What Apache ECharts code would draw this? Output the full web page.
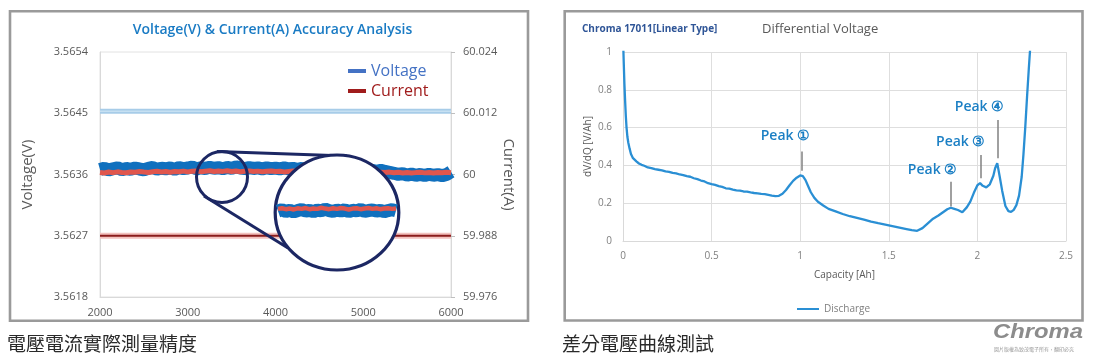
<!DOCTYPE html>
<html><head><meta charset="utf-8">
<script src="https://cdn.jsdelivr.net/npm/echarts@6/dist/echarts.min.js"></script>
<style>html,body{margin:0;padding:0;background:#fff}#c{width:1095px;height:359px}</style>
</head><body><div id="c"></div>
<script>
// ---------- Left chart: Voltage / Current accuracy ----------
const timeSec = [
 2000,2050,2100,2150,2200,2250,2300,2350,2400,2450,
 2500,2550,2600,2650,2700,2750,2800,2850,2900,2950,
 3000,3050,3100,3150,3200,3250,3300,3350,3400,3450,
 3500,3550,3600,3650,3700,3750,3800,3850,3900,3950,
 4000,4050,4100,4150,4200,4250,4300,4350,4400,4450,
 4500,4550,4600,4650,4700,4750,4800,4850,4900,4950,
 5000,5050,5100,5150,5200,5250,5300,5350,5400,5450,
 5500,5550,5600,5650,5700,5750,5800,5850,5900,5950,
 6000];
const voltage = [
 3.563672,3.563691,3.563668,3.563684,3.563699,3.563671,3.563688,3.563676,3.563694,3.563681,
 3.563669,3.563690,3.563703,3.563678,3.563692,3.563684,3.563697,3.563676,3.563701,3.563687,
 3.563695,3.563710,3.563683,3.563699,3.563688,3.563706,3.563692,3.563700,3.563685,3.563703,
 3.563690,3.563712,3.563694,3.563687,3.563702,3.563689,3.563697,3.563683,3.563699,3.563686,
 3.563694,3.563681,3.563697,3.563684,3.563690,3.563676,3.563688,3.563672,3.563685,3.563669,
 3.563680,3.563666,3.563678,3.563663,3.563675,3.563660,3.563672,3.563657,3.563669,3.563654,
 3.563666,3.563650,3.563663,3.563647,3.563661,3.563644,3.563632,3.563618,3.563603,3.563612,
 3.563590,3.563605,3.563588,3.563601,3.563584,3.563603,3.563589,3.563598,3.563583,3.563600,
 3.563640];
const current = [
 60.00041,60.00030,60.00048,60.00036,60.00052,60.00040,60.00033,60.00050,60.00044,60.00058,
 60.00047,60.00039,60.00055,60.00062,60.00049,60.00057,60.00045,60.00060,60.00053,60.00066,
 60.00051,60.00063,60.00070,60.00056,60.00064,60.00072,60.00059,60.00067,60.00061,60.00074,
 60.00060,60.00068,60.00055,60.00065,60.00071,60.00058,60.00066,60.00053,60.00062,60.00069,
 60.00057,60.00064,60.00051,60.00060,60.00067,60.00054,60.00061,60.00048,60.00058,60.00064,
 60.00050,60.00057,60.00046,60.00055,60.00062,60.00049,60.00056,60.00044,60.00052,60.00059,
 60.00047,60.00054,60.00042,60.00051,60.00045,60.00038,60.00047,60.00034,60.00043,60.00031,
 60.00040,60.00028,60.00037,60.00044,60.00032,60.00041,60.00029,60.00038,60.00033,60.00042,
 60.00036];
const voltLimit = 3.56453;
const currLimit = 59.988;
const voltTicks = [3.5618, 3.5627, 3.5636, 3.5645, 3.5654];
// magnified view inside the big circle (relative units)
const zoomIdx = [0,1,2,3,4,5,6,7,8,9,10,11,12,13,14,15,16,17,18,19,20,21,22,23,24,25,26,27,28,29,30];
const zoomVoltage = [4.6,5.1,4.5,4.9,4.3,4.8,5.2,4.6,4.9,4.4,5.0,4.7,5.3,4.8,4.5,5.0,4.6,5.1,4.4,4.9,4.7,5.2,4.5,4.8,5.0,4.6,4.9,4.4,4.8,5.1,4.7];
const zoomCurrent = [5.4,5.6,5.3,5.5,5.2,5.6,5.4,5.7,5.3,5.5,5.4,5.8,5.5,5.3,5.6,5.4,5.7,5.5,5.2,5.5,5.6,5.3,5.5,5.7,5.4,5.6,5.3,5.5,5.6,5.4,5.5];

// ---------- Right chart: differential voltage ----------
const dischargeCurve = [
 [0,1.08],[0.004,0.95],[0.008,0.83],[0.012,0.74],[0.016,0.66],[0.02,0.60],[0.025,0.55],[0.03,0.52],
 [0.037,0.49],[0.045,0.46],[0.055,0.44],[0.065,0.43],[0.077,0.42],[0.09,0.41],[0.105,0.403],[0.12,0.398],
 [0.14,0.389],[0.16,0.386],[0.18,0.380],[0.2,0.377],[0.22,0.374],[0.24,0.368],[0.26,0.366],[0.28,0.360],
 [0.3,0.358],[0.32,0.352],[0.34,0.349],[0.36,0.343],[0.38,0.340],[0.4,0.332],[0.42,0.327],[0.44,0.320],
 [0.46,0.315],[0.48,0.306],[0.5,0.301],[0.52,0.297],[0.54,0.290],[0.56,0.286],[0.58,0.279],[0.6,0.277],
 [0.62,0.272],[0.64,0.268],[0.66,0.266],[0.68,0.262],[0.7,0.261],[0.72,0.257],[0.74,0.254],[0.76,0.252],
 [0.78,0.249],[0.8,0.248],[0.82,0.244],[0.84,0.240],[0.86,0.237],[0.88,0.239],[0.9,0.250],[0.92,0.270],
 [0.94,0.295],[0.96,0.318],[0.98,0.335],[1.0,0.347],[1.015,0.343],[1.03,0.322],[1.045,0.290],[1.06,0.258],
 [1.08,0.228],[1.1,0.208],[1.13,0.188],[1.16,0.170],[1.2,0.157],[1.24,0.143],[1.28,0.131],[1.32,0.122],
 [1.36,0.113],[1.4,0.102],[1.44,0.094],[1.48,0.087],[1.52,0.079],[1.56,0.071],[1.6,0.063],[1.63,0.057],
 [1.66,0.054],[1.69,0.068],[1.72,0.093],[1.75,0.118],[1.78,0.135],[1.81,0.155],[1.83,0.168],[1.85,0.176],
 [1.87,0.170],[1.89,0.164],[1.915,0.152],[1.94,0.178],[1.96,0.208],[1.98,0.255],[2.0,0.295],[2.015,0.306],
 [2.03,0.292],[2.05,0.284],[2.07,0.300],[2.09,0.345],[2.1,0.385],[2.112,0.412],[2.125,0.345],[2.14,0.265],
 [2.158,0.185],[2.175,0.158],[2.19,0.154],[2.205,0.165],[2.22,0.190],[2.235,0.240],[2.25,0.340],[2.26,0.46],
 [2.27,0.60],[2.28,0.76],[2.29,0.91],[2.3,1.05]];
const peakNames = ['Peak \u2460', 'Peak \u2461', 'Peak \u2462', 'Peak \u2463'];
const peakLabelAt = [[0.917,0.557],[1.747,0.376],[1.906,0.525],[2.012,0.707]];
const peakArrowX = [1.01, 1.847, 2.017, 2.115];
const peakArrowTop = [0.473, 0.314, 0.455, 0.64];
const peakArrowEnd = [0.372, 0.182, 0.332, 0.438];

const chart = echarts.init(document.getElementById('c'), null, {renderer:'canvas'});
const F = '"Open Sans", "Noto Sans", sans-serif';
const CJK = '"Noto Sans CJK TC", "Noto Sans CJK SC", sans-serif';

const zip = (a,b) => a.map((v,i)=>[v,b[i]]);
const tStart = timeSec[0], tEnd = timeSec[timeSec.length-1];
const hline = (name, yIdx, v, color, width, z) => ({
  name, type:'line', xAxisIndex:0, yAxisIndex:yIdx, data:[[tStart, v],[tEnd, v]],
  symbol:'none', silent:true, z, lineStyle:{color, width}
});

chart.setOption({
  animation: false,
  backgroundColor: '#fff',
  textStyle: {fontFamily: F},
  grid: [
    {left:100, top:52, width:351, height:245, show:true, borderColor:'#e2e2e2', borderWidth:1, backgroundColor:'transparent'},
    {left:278, top:196, width:118, height:28},
    {left:623, top:52, width:443, height:189}
  ],
  legend: [
    {orient:'vertical', left:343, top:58, itemGap:4, itemWidth:18, itemHeight:4, icon:'rect',
     textStyle:{fontSize:16, fontFamily:F},
     data:[{name:'Voltage', itemStyle:{color:'#4472c4'}, textStyle:{color:'#4472c4'}},
           {name:'Current', itemStyle:{color:'#a01c1c'}, textStyle:{color:'#a01c1c'}}]},
    {left:792, top:299, itemWidth:22, itemHeight:2, icon:'rect', textStyle:{fontSize:10, color:'#7f7f7f', fontFamily:F},
     data:[{name:'Discharge'}]}
  ],
  xAxis: [
    {gridIndex:0, type:'value', min:2000, max:6000, interval:1000,
     axisLine:{show:true, lineStyle:{color:'#d9d9d9'}}, axisTick:{show:false}, splitLine:{show:false},
     axisLabel:{color:'#595959', fontSize:11, margin:10, formatter: v => String(v)}},
    {gridIndex:1, type:'value', min:0, max:30, show:false},
    {gridIndex:2, type:'value', min:0, max:2.5, interval:0.5,
     name:'Capacity [Ah]', nameLocation:'middle', nameGap:29, nameTextStyle:{color:'#595959', fontSize:10},
     axisLine:{show:true, lineStyle:{color:'#d9d9d9'}}, axisTick:{show:false},
     splitLine:{show:true, lineStyle:{color:'#dedede'}},
     axisLabel:{color:'#7f7f7f', fontSize:10, margin:10}}
  ],
  yAxis: [
    {gridIndex:0, type:'value', position:'left', min:3.5618, max:3.5654,
     name:'Voltage(V)', nameLocation:'middle', nameGap:65, nameRotate:90,
     nameTextStyle:{color:'#595959', fontSize:15},
     axisLine:{show:true, lineStyle:{color:'#d9d9d9'}}, axisTick:{show:false}, splitLine:{show:false},
     axisLabel:{color:'#595959', fontSize:11, margin:12, customValues: voltTicks, formatter: v => v.toFixed(4)}},
    {gridIndex:0, type:'value', position:'right', min:59.976, max:60.024, interval:0.012,
     name:'Current(A)', nameLocation:'middle', nameGap:50, nameRotate:-90,
     nameTextStyle:{color:'#595959', fontSize:15},
     axisLine:{show:true, lineStyle:{color:'#d9d9d9'}}, axisTick:{show:true, length:4, lineStyle:{color:'#bfbfbf'}},
     splitLine:{show:false},
     axisLabel:{color:'#595959', fontSize:11, margin:12}},
    {gridIndex:1, type:'value', min:0, max:10, show:false},
    {gridIndex:2, type:'value', min:0, max:1, interval:0.2,
     name:'dV/dQ [V/Ah]', nameLocation:'middle', nameGap:30, nameRotate:90,
     nameTextStyle:{color:'#595959', fontSize:10},
     axisLine:{show:true, lineStyle:{color:'#d9d9d9'}}, axisTick:{show:false},
     splitLine:{show:true, lineStyle:{color:'#dedede'}},
     axisLabel:{color:'#7f7f7f', fontSize:10, margin:11}}
  ],
  series: [
    hline('Voltage limit', 0, voltLimit, '#a7cce8', 5, 1),
    hline('Voltage limit core', 0, voltLimit, '#c6e0f2', 1.5, 1),
    hline('Current limit', 1, currLimit, '#f3c2bf', 6, 1),
    hline('Current limit core', 1, currLimit, '#8a1c1c', 1.8, 1),
    {name:'Voltage', type:'line', xAxisIndex:0, yAxisIndex:0, data: zip(timeSec, voltage),
     symbol:'none', z:2, lineStyle:{color:'#1070be', width:13}, itemStyle:{color:'#1070be'}},
    {name:'Current', type:'line', xAxisIndex:0, yAxisIndex:1, data: zip(timeSec, current),
     symbol:'none', z:3, lineStyle:{color:'#e0564d', width:5}, itemStyle:{color:'#e0564d'}},
    {name:'Voltage', type:'line', xAxisIndex:1, yAxisIndex:2, data: zip(zoomIdx, zoomVoltage),
     symbol:'none', z:10, lineStyle:{color:'#1070be', width:13}},
    {name:'Current', type:'line', xAxisIndex:1, yAxisIndex:2, data: zip(zoomIdx, zoomCurrent),
     symbol:'none', z:11, lineStyle:{color:'#e0564d', width:4.5}},
    {name:'Discharge', type:'line', xAxisIndex:2, yAxisIndex:3, data: dischargeCurve,
     symbol:'none', z:3, lineStyle:{color:'#2a8fd4', width:2.3}, itemStyle:{color:'#2a8fd4'},
     markLine:{silent:true, symbol:['none','arrow'], symbolSize:[0,7], label:{show:false},
       lineStyle:{color:'#808080', width:1.5, type:'solid'},
       data: peakArrowX.map((x,i)=>[{coord:[x, peakArrowTop[i]]},{coord:[x, peakArrowEnd[i]]}])},
     markPoint:{silent:true, symbol:'circle', symbolSize:1, itemStyle:{color:'rgba(0,0,0,0)'},
       label:{show:true, position:'inside', formatter:'{b}', color:'#1b7fc4', fontSize:14, fontWeight:600, fontFamily:F},
       data: peakNames.map((n,i)=>({name:n, coord:peakLabelAt[i]}))}}
  ],
  graphic: [
    {type:'rect', z:1, shape:{x:10, y:11.3, width:518, height:309.4}, style:{fill:'none', stroke:'#9a9a9a', lineWidth:2.6}},
    {type:'rect', z:1, shape:{x:564.7, y:11.3, width:517.8, height:309.2}, style:{fill:'none', stroke:'#9a9a9a', lineWidth:2.6}},
    {type:'text', z:20, x:272.5, y:30, style:{text:'Voltage(V) & Current(A) Accuracy Analysis', font:'600 14px '+F, fill:'#1a7bc4', textAlign:'center', textVerticalAlign:'middle'}},
    {type:'text', z:20, x:582, y:29, style:{text:'Chroma 17011[Linear Type]', font:'bold 10px '+F, fill:'#2f5597', textAlign:'left', textVerticalAlign:'middle'}},
    {type:'text', z:20, x:762, y:29, style:{text:'Differential Voltage', font:'13px '+F, fill:'#595959', textAlign:'left', textVerticalAlign:'middle'}},
    {type:'text', z:20, x:7, y:343.5, style:{text:'電壓電流實際測量精度', font:'19px '+CJK, fill:'#2a2a2a', textAlign:'left', textVerticalAlign:'middle'}},
    {type:'text', z:20, x:562, y:343.5, style:{text:'差分電壓曲線測試', font:'19px '+CJK, fill:'#2a2a2a', textAlign:'left', textVerticalAlign:'middle'}},
    {type:'text', z:20, x:993, y:332, scaleX:1.19, style:{text:'Chroma', font:'italic bold 20px "Liberation Sans", sans-serif', fill:'#8c8c8c', textAlign:'left', textVerticalAlign:'middle'}},
    {type:'text', z:20, x:994, y:349, style:{text:'圖片版權為致茂電子所有，翻印必究', font:'5px '+CJK, fill:'#9a9a9a', textAlign:'left', textVerticalAlign:'middle'}},
    // magnifier
    {type:'line', z:4, shape:{x1:217, y1:151.6, x2:347, y2:156}, style:{stroke:'#1c2763', lineWidth:3}},
    {type:'line', z:4, shape:{x1:204, y1:196, x2:288, y2:248}, style:{stroke:'#1c2763', lineWidth:3}},
    {type:'circle', z:6, shape:{cx:222, cy:177, r:25.5}, style:{fill:'none', stroke:'#1c2763', lineWidth:3}},
    {type:'circle', z:5, x:337, y:212.5, scaleX:1.075, shape:{cx:0, cy:0, r:57.5}, style:{fill:'#ffffff', stroke:'#1c2763', lineWidth:3, strokeNoScale:true}}
  ]
});
</script>
</body></html>
